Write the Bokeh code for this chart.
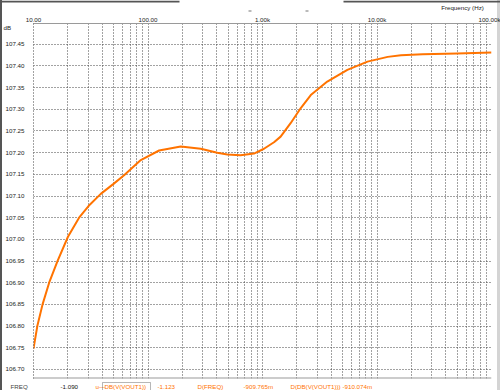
from bokeh.plotting import figure
from bokeh.layouts import column
from bokeh.models import FixedTicker, Label, BoxAnnotation, Span
from bokeh.embed import file_html
from bokeh.resources import INLINE

# ---- data ----
freq = [10, 10.8, 12.0, 13.7, 16.2, 20, 25, 31, 38.7, 50, 61.8, 86.5, 125, 193,
        289, 403, 493, 643, 842, 1030, 1260, 1440, 1760, 2160, 2640, 3680,
        5510, 8260, 12400, 16200, 25000, 50000, 100000]
db = [106.748, 106.80, 106.85, 106.90, 106.95, 107.006, 107.05, 107.08, 107.105,
      107.128, 107.148, 107.183, 107.205, 107.214, 107.209, 107.20, 107.196,
      107.194, 107.198, 107.209, 107.224, 107.237, 107.268, 107.303, 107.333,
      107.364, 107.391, 107.41, 107.421, 107.425, 107.427, 107.429, 107.431]

x_ticks = [10, 100, 1000, 10000, 100000]
x_tick_labels = ["10.00", "100.00", "1.00k", "10.00k", "100.00k"]
y_ticks = [106.70, 106.75, 106.80, 106.85, 106.90, 106.95, 107.00, 107.05,
           107.10, 107.15, 107.20, 107.25, 107.30, 107.35, 107.40, 107.45]
y_tick_labels = ["%.2f" % v for v in y_ticks]
x_grid = [m * 10 ** d for d in range(1, 5) for m in range(1, 10)] + [100000]
y_unit = "dB"
x_title = "Frequency  (Hz)"

# cursor read-out row under the plot
readout_texts = ["FREQ", "-1.090", "u\u2014", "DB(V(VOUT1))", "-1.123",
                 "D(FREQ)", "-909.765m", "D(DB(V(VOUT1)))", "-910.074m"]

FONT = "Liberation Sans"
FS = "6.2px"
ORANGE = "#ff7300"
W = 500

def strip(h, **kw):
    s = figure(width=W, height=h, x_range=(0, W), y_range=(0, h),
               output_backend="svg", toolbar_location=None,
               x_axis_location=None, y_axis_location=None,
               min_border=0, min_border_left=0, min_border_right=0,
               min_border_top=0, min_border_bottom=0, frame_align=False, **kw)
    s.outline_line_color = None
    s.xgrid.visible = False
    s.ygrid.visible = False
    s.border_fill_color = None
    s.background_fill_color = None
    return s

def lab(fig, h, px, py, text, color="#222222", align="left"):
    fig.add_layout(Label(x=px, y=h - py, x_units="screen", y_units="screen",
                         text=text, text_font=FONT, text_font_size=FS,
                         text_color=color, text_align=align,
                         text_baseline="middle"))

def box(fig, h, x0, x1, y0, y1, fill=None, line=None):
    fig.add_layout(BoxAnnotation(left=x0, right=x1, bottom=h - y1, top=h - y0,
                                 left_units="screen", right_units="screen",
                                 bottom_units="screen", top_units="screen",
                                 fill_color=fill, fill_alpha=1,
                                 line_color=line, line_width=1))

# ---------------- header strip (overlapped by the plot's empty top border) ----
HH = 30
head = strip(HH)
box(head, HH, 0, 179, 0, 2, fill="#555555")
box(head, HH, 343, 500, 0, 2, fill="#555555")
lab(head, HH, 485, 7, x_title, align="right")
box(head, HH, 248, 251, 10, 11, fill="#777777")
box(head, HH, 305, 308, 10, 11, fill="#777777")
lab(head, HH, 3, 27, y_unit)

# ---------------- main plot ----------------
p = figure(width=W, height=367, x_axis_type="log", x_axis_location="above",
           x_range=(10, 100000), y_range=(106.679, 107.498),
           output_backend="svg", toolbar_location=None,
           min_border_left=33, min_border_right=9, min_border_top=11,
           min_border_bottom=1, frame_align=False, margin=(-18, 0, 0, 0))
p.outline_line_color = None
p.background_fill_color = "white"
p.border_fill_color = None

xa = p.xaxis[0]
xa.ticker = FixedTicker(ticks=x_ticks)
xa.major_label_overrides = {t: l for t, l in zip(x_ticks, x_tick_labels)}
xa.major_tick_line_color = None
xa.minor_tick_line_color = None
xa.major_tick_out = 0
xa.major_tick_in = 0
xa.minor_tick_out = 0
xa.major_label_standoff = 1
xa.axis_line_color = "#9a9a9a"
xa.major_label_text_font = FONT
xa.major_label_text_font_size = FS
xa.major_label_text_color = "#222222"

ya = p.yaxis[0]
ya.ticker = FixedTicker(ticks=y_ticks)
ya.major_label_overrides = {t: l for t, l in zip(y_ticks, y_tick_labels)}
ya.major_tick_line_color = None
ya.minor_tick_line_color = None
ya.major_tick_out = 0
ya.major_tick_in = 0
ya.minor_tick_out = 0
ya.major_label_standoff = 9
ya.axis_line_color = "#444444"
ya.axis_line_dash = "1 2"
ya.major_label_text_font = FONT
ya.major_label_text_font_size = FS
ya.major_label_text_color = "#222222"

p.xgrid.ticker = FixedTicker(ticks=x_grid)
p.ygrid.ticker = FixedTicker(ticks=y_ticks)
for g in (p.xgrid[0], p.ygrid[0]):
    g.grid_line_color = "#444444"
    g.grid_line_dash = "1 2"
    g.grid_line_width = 1

p.add_layout(Span(location=p.y_range.start, dimension="width",
                  line_color="#9a9a9a", line_width=2))

p.line(freq, db, line_color=ORANGE, line_width=2)

# ---------------- read-out strip ----------------
RH = 11
foot = strip(RH)
cols = ["#444444", "#111111"] + [ORANGE] * 7
xs = [10, 60, 95, 104, 157, 197, 243, 290, 342]
for t, c, x in zip(readout_texts, cols, xs):
    lab(foot, RH, x, 6, t, color=c)
box(foot, RH, 102, 150, 2, 10, line="#111111")

layout = column(head, p, foot, spacing=0,
                styles={"background": "linear-gradient(to right, #555555 0px, "
                        "#555555 2px, #ffffff 2px, #ffffff 497px, "
                        "#d4d4d4 497px, #d4d4d4 500px)"})
open("out.html", "w").write(file_html(layout, INLINE))
